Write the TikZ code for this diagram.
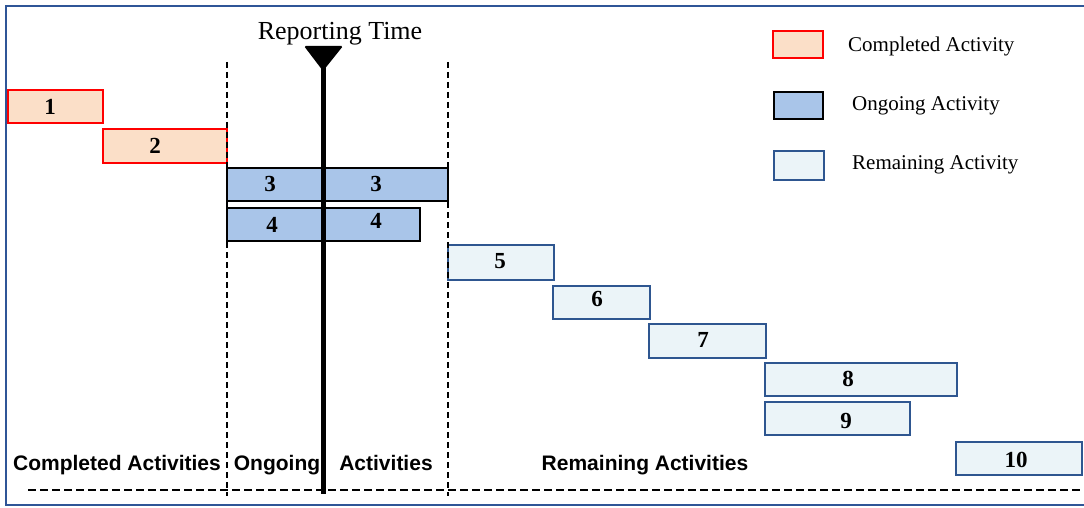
\documentclass[tikz,border=0pt]{standalone}
\usepackage{fontspec}
\setmainfont{Liberation Serif}
\setsansfont{Liberation Sans}
\definecolor{compfill}{HTML}{FBDFC8}
\definecolor{ongfill}{HTML}{A9C5E9}
\definecolor{remfill}{HTML}{EBF4F8}
\definecolor{remdraw}{HTML}{2E5690}
\definecolor{framec}{HTML}{2F5597}
\newcommand\actbox[6]{%
  \node[#2, minimum width={(#5-#3)*1pt}, minimum height={(#6-#4)*1pt}] (#1) at ({(#3+#5)/2},{(#4+#6)/2}) {};}
\begin{document}
\begin{tikzpicture}[x=1pt,y=-1pt,
  bar/.style={rectangle, inner sep=0pt, outer sep=0pt, line width=2pt},
  compbox/.style={bar, draw=red, fill=compfill},
  ongbox/.style={bar, draw=black, fill=ongfill, line width=2.4pt},
  rembox/.style={bar, draw=remdraw, fill=remfill},
  num/.style={font=\bfseries\fontsize{23}{23}\selectfont, inner sep=0pt},
  legtxt/.style={font=\fontsize{21}{21}\selectfont, anchor=base west, inner sep=0pt},
  phase/.style={font=\sffamily\bfseries\fontsize{21}{21}\selectfont, inner sep=0pt, anchor=base},
  divider/.style={dash pattern=on 6pt off 4pt, line width=1.8pt},
  baseline/.style={dash pattern=on 8pt off 4pt, line width=2pt}]
\useasboundingbox (0,0) rectangle (1084,508);
% frame
\draw[framec, line width=2.2pt] (1084,6) -- (6,6) -- (6,505) -- (1084,505);
% activity bars
\actbox{b1}{compbox}{8}{90}{103}{123}
\actbox{b2}{compbox}{103}{129}{227}{163}
\actbox{b3}{ongbox}{227}{168}{448}{201}
\actbox{b4}{ongbox}{227}{208}{420}{241}
\actbox{b5}{rembox}{448}{245}{554}{280}
\actbox{b6}{rembox}{553}{286}{650}{319}
\actbox{b7}{rembox}{649}{324}{766}{358}
\actbox{b8}{rembox}{765}{363}{957}{396}
\actbox{b9}{rembox}{765}{402}{910}{435}
\actbox{b10}{rembox}{956}{442}{1082}{475}
% numbers
\node[num] (n1) at (50,107) {1};
\node[num] (n2) at (155,146) {2};
\node[num] (n3a) at (270,184) {3};
\node[num] (n3b) at (376,184) {3};
\node[num] (n4a) at (272,225) {4};
\node[num] (n4b) at (376,221) {4};
\node[num] (n5) at (500,261) {5};
\node[num] (n6) at (597,299) {6};
\node[num] (n7) at (703,340) {7};
\node[num] (n8) at (848,379) {8};
\node[num] (n9) at (846,421) {9};
\node[num] (n10) at (1016,460) {10};
% dividers
\coordinate (d1t) at (227,62); \coordinate (d1b) at (227,496);
\coordinate (d2t) at (448,62); \coordinate (d2b) at (448,496);
\draw[divider] (d1t) -- (d1b);
\draw[divider] (d2t) -- (d2b);
\coordinate (hl) at (28,490); \coordinate (hr) at (1084,490);
\draw[baseline] (hl) -- (hr);
% reporting time
\coordinate (rtt) at (323,66); \coordinate (rtb) at (323,494);
\draw[line width=5pt] (rtt) -- (rtb);
\fill[rounded corners=1.5pt] (304,46) -- (343,46) -- (323,71) -- cycle;
\node[font=\fontsize{26}{26}\selectfont, inner sep=0pt, anchor=base] (rt) at (340,40) {Reporting Time};
% legend
\actbox{l1}{compbox}{773}{31}{823}{58}
\actbox{l2}{ongbox}{774}{92}{823}{119}
\actbox{l3}{rembox}{774}{151}{824}{180}
\node[legtxt] (lt1) at (848,52) {Completed Activity};
\node[legtxt] (lt2) at (852,111) {Ongoing Activity};
\node[legtxt] (lt3) at (852,169) {Remaining Activity};
% phase labels
\node[phase] (p1) at (117,470) {Completed Activities};
\node[phase] (p2) at (277,470) {Ongoing};
\node[phase] (p3) at (386,470) {Activities};
\node[phase] (p4) at (645,470) {Remaining Activities};
\end{tikzpicture}
\end{document}
